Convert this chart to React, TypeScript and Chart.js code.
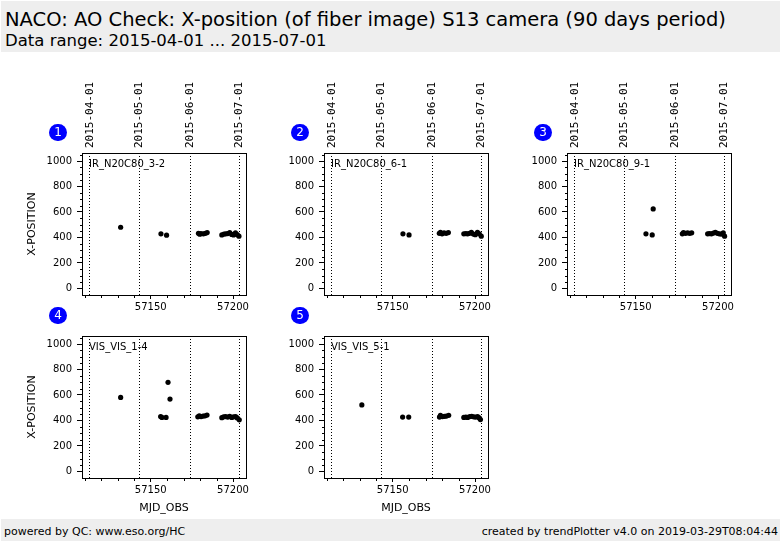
import React, { useEffect, useRef } from "react";
import { Chart, registerables } from "chart.js";

Chart.register(...registerables);

Chart.defaults.font.family = "DejaVu Sans";
Chart.defaults.color = "#000";

// axis ticks
const DATE_TICKS = [57113, 57143, 57174, 57204];
const DATE_LABELS = ["2015-04-01", "2015-05-01", "2015-06-01", "2015-07-01"];
const MJD_TICKS = [57150, 57200];
const Y_TICKS = [0, 200, 400, 600, 800, 1000];
const X_MIN = 57108.2;
const X_MAX = 57207.9;
const Y_MIN = -52;
const Y_MAX = 1063;

const PANEL_NAMES = ["IR_N20C80_3-2", "IR_N20C80_6-1", "IR_N20C80_9-1", "VIS_VIS_1-4", "VIS_VIS_5-1"];

// data
const mjd1 = [57131.7, 57156.2, 57159.6, 57179.0, 57179.8, 57180.5, 57182.0, 57183.2, 57184.3, 57193.2, 57194.5, 57195.6, 57196.8, 57198.0, 57199.2, 57200.3, 57201.5, 57202.6, 57203.6];
const xpos1 = [480, 428, 418, 432, 425, 430, 428, 432, 438, 420, 426, 428, 430, 438, 424, 420, 436, 422, 410];

const mjd2 = [57156.2, 57159.9, 57178.3, 57179.0, 57180.0, 57181.2, 57182.5, 57183.8, 57193.2, 57194.4, 57195.5, 57196.7, 57197.8, 57199.0, 57200.2, 57201.5, 57202.6, 57203.8];
const xpos2 = [428, 420, 432, 440, 428, 436, 432, 438, 428, 430, 428, 432, 440, 426, 422, 440, 428, 410];

const mjd3 = [57156.2, 57160.0, 57160.6, 57178.3, 57179.0, 57180.2, 57181.5, 57182.8, 57184.0, 57193.7, 57194.8, 57196.0, 57197.2, 57198.4, 57199.6, 57200.8, 57202.0, 57203.2, 57204.0];
const xpos3 = [428, 420, 624, 428, 438, 432, 436, 432, 436, 428, 430, 428, 434, 440, 432, 428, 426, 436, 410];

const mjd4 = [57131.7, 57156.0, 57156.8, 57159.3, 57160.5, 57161.7, 57178.6, 57179.5, 57180.6, 57181.8, 57183.0, 57184.2, 57193.2, 57194.3, 57195.5, 57196.8, 57198.0, 57199.2, 57200.4, 57201.6, 57202.6, 57203.8];
const xpos4 = [581, 430, 424, 424, 699, 568, 428, 436, 430, 434, 436, 442, 422, 428, 430, 426, 432, 424, 428, 430, 420, 405];

const mjd5 = [57131.2, 57156.0, 57159.7, 57178.4, 57179.0, 57180.2, 57181.4, 57182.6, 57184.0, 57193.2, 57194.4, 57195.5, 57196.8, 57198.0, 57199.2, 57200.4, 57201.6, 57202.6, 57203.3];
const xpos5 = [522, 426, 426, 426, 440, 430, 432, 434, 440, 424, 426, 424, 430, 432, 428, 426, 430, 420, 407];

const AXIS_W = 60;
const TOP_H = 80;
const BOTTOM_H = 45;
const PLOT_W = 164;
const PLOT_H = 142;
const PAD_R = 12;
const DATE_FONT = 11;

type PanelProps = {
  num: number;
  name: string;
  mjd: number[];
  xpos: number[];
  left: number;
  top: number;
  topLabels: boolean;
  xTitle: boolean;
  yTitle: boolean;
};

// keep the plot box at a fixed size, no extra room for edge labels
const fixHeight = (h: number) => (s: any) => {
  s.height = h;
  s.paddingLeft = 0;
  s.paddingRight = 0;
};
const fixWidth = (w: number) => (s: any) => {
  s.width = w;
  s.paddingTop = 0;
  s.paddingBottom = 0;
};

const Panel: React.FC<PanelProps> = ({ num, name, mjd, xpos, left, top, topLabels, xTitle, yTitle }) => {
  const chartRef = useRef<HTMLCanvasElement>(null);

  useEffect(() => {
    if (!chartRef.current) return;

    // frame, minor ticks and panel name
    const frame = {
      id: "frame",
      afterDraw(chart: Chart) {
        const { ctx, chartArea: a, scales } = chart;
        ctx.save();
        ctx.strokeStyle = "#000";
        ctx.lineWidth = 1;
        const l = Math.round(a.left) + 0.5;
        const t = Math.round(a.top) + 0.5;
        const r = Math.round(a.right) + 0.5;
        const b = Math.round(a.bottom) + 0.5;
        ctx.strokeRect(l, t, r - l, b - t);
        ctx.beginPath();
        for (let v = -50; v <= 1050; v += 50) {
          if (v % 200 === 0) continue;
          const y = Math.round(scales.y.getPixelForValue(v)) + 0.5;
          if (y < a.top || y > a.bottom) continue;
          ctx.moveTo(l - 2.5, y);
          ctx.lineTo(l, y);
        }
        for (let v = 57110; v <= 57200; v += 10) {
          if (MJD_TICKS.includes(v)) continue;
          const x = Math.round(scales.x.getPixelForValue(v)) + 0.5;
          ctx.moveTo(x, b);
          ctx.lineTo(x, b + 2.5);
        }
        ctx.stroke();
        ctx.fillStyle = "#000";
        ctx.font = "10px 'DejaVu Sans'";
        ctx.textBaseline = "alphabetic";
        ctx.fillText(name, a.left + 7, a.top + 14);
        ctx.restore();
      },
    };

    const chartInstance = new Chart(chartRef.current, {
      type: "scatter",
      data: {
        datasets: [
          {
            data: mjd.map((x, i) => ({ x, y: xpos[i] })),
            backgroundColor: "#000",
            borderWidth: 0,
            pointRadius: 2.6,
            pointHoverRadius: 2.6,
          },
        ],
      },
      options: {
        animation: false,
        responsive: false,
        events: [],
        layout: { padding: { left: 0, top: 0, bottom: 0, right: PAD_R } },
        plugins: { legend: { display: false }, tooltip: { enabled: false } },
        scales: {
          x: {
            type: "linear",
            position: "bottom",
            min: X_MIN,
            max: X_MAX,
            afterBuildTicks: (s: any) => {
              s.ticks = MJD_TICKS.map((v) => ({ value: v }));
            },
            afterFit: fixHeight(BOTTOM_H),
            grid: { drawOnChartArea: false, drawTicks: true, tickLength: 4, tickColor: "#000" },
            border: { display: false },
            ticks: { font: { size: 10 }, color: "#000", padding: 2, maxRotation: 0, autoSkip: false, callback: (v: any) => String(v) },
            title: { display: xTitle, text: "MJD_OBS", font: { size: 11 }, color: "#000", padding: { top: 0, bottom: 8 } },
          },
          xTop: {
            type: "linear",
            axis: "x",
            position: "top",
            min: X_MIN,
            max: X_MAX,
            afterBuildTicks: (s: any) => {
              s.ticks = DATE_TICKS.map((v) => ({ value: v }));
            },
            afterFit: fixHeight(TOP_H),
            grid: { drawOnChartArea: true, drawTicks: false, color: "#000", lineWidth: 1 },
            border: { display: false, dash: [1, 2] },
            ticks: {
              display: topLabels,
              font: { family: "DejaVu Sans Mono", size: DATE_FONT },
              color: "#000",
              minRotation: 90,
              maxRotation: 90,
              padding: 5,
              labelOffset: DATE_FONT * 1.2,
              autoSkip: false,
              callback: (_v: any, i: number) => DATE_LABELS[i],
            },
          },
          y: {
            type: "linear",
            position: "left",
            min: Y_MIN,
            max: Y_MAX,
            afterBuildTicks: (s: any) => {
              s.ticks = Y_TICKS.map((v) => ({ value: v }));
            },
            afterFit: fixWidth(AXIS_W),
            grid: { drawOnChartArea: false, drawTicks: true, tickLength: 5, tickColor: "#000" },
            border: { display: false },
            ticks: { font: { size: 10 }, color: "#000", padding: 5, callback: (v: any) => String(v) },
            title: { display: yTitle, text: "X-POSITION", font: { size: 11 }, color: "#000", padding: { top: 3.4, bottom: 0 } },
          },
        },
      },
      plugins: [frame],
    } as any);

    return () => {
      chartInstance.destroy();
    };
  }, [name, mjd, xpos, topLabels, xTitle, yTitle]);

  const cx = left + AXIS_W - 24;
  const cy = top + TOP_H - 20.5;

  return (
    <>
      <canvas
        ref={chartRef}
        width={AXIS_W + PLOT_W + PAD_R}
        height={TOP_H + PLOT_H + BOTTOM_H}
        style={{ position: "absolute", left, top, width: AXIS_W + PLOT_W + PAD_R, height: TOP_H + PLOT_H + BOTTOM_H }}
      />
      <div
        style={{
          position: "absolute",
          left: cx - 8.8,
          top: cy - 8.8,
          width: 17.6,
          height: 17.6,
          borderRadius: "50%",
          background: "#0000ff",
          color: "#fff",
          fontSize: 12,
          lineHeight: "17.6px",
          textAlign: "center",
        }}
      >
        {num}
      </div>
    </>
  );
};

const PANELS = [
  { mjd: mjd1, xpos: xpos1, left: 22, top: 73, topLabels: true, xTitle: false, yTitle: true },
  { mjd: mjd2, xpos: xpos2, left: 264, top: 73, topLabels: true, xTitle: false, yTitle: false },
  { mjd: mjd3, xpos: xpos3, left: 507, top: 73, topLabels: true, xTitle: false, yTitle: false },
  { mjd: mjd4, xpos: xpos4, left: 22, top: 256, topLabels: false, xTitle: true, yTitle: true },
  { mjd: mjd5, xpos: xpos5, left: 264, top: 256, topLabels: false, xTitle: true, yTitle: false },
];

export default function App() {
  return (
    <div
      style={{
        position: "fixed",
        left: 0,
        top: 0,
        width: 782,
        height: 542,
        background: "#fff",
        fontFamily: "'DejaVu Sans'",
        overflow: "hidden",
      }}
    >
      <div style={{ position: "absolute", left: 1, top: 1, width: 779, height: 51, background: "#eeeeee" }} />
      <div style={{ position: "absolute", left: 5, top: 9.5, fontSize: 19.5, lineHeight: "19.5px", whiteSpace: "nowrap" }}>
        NACO: AO Check: X-position (of fiber image) S13 camera (90 days period)
      </div>
      <div style={{ position: "absolute", left: 5, top: 33, fontSize: 16.5, lineHeight: "16.5px", whiteSpace: "nowrap" }}>
        Data range: 2015-04-01 ... 2015-07-01
      </div>
      {PANELS.map((p, i) => (
        <Panel key={i} num={i + 1} name={PANEL_NAMES[i]} {...p} />
      ))}
      <div style={{ position: "absolute", left: 1, top: 519, width: 779, height: 22, background: "#eeeeee" }} />
      <div style={{ position: "absolute", left: 4, top: 526, fontSize: 11, lineHeight: "11px", whiteSpace: "nowrap" }}>
        powered by QC: www.eso.org/HC
      </div>
      <div style={{ position: "absolute", right: 4, top: 526, fontSize: 11, lineHeight: "11px", whiteSpace: "nowrap" }}>
        created by trendPlotter v4.0 on 2019-03-29T08:04:44
      </div>
    </div>
  );
}
